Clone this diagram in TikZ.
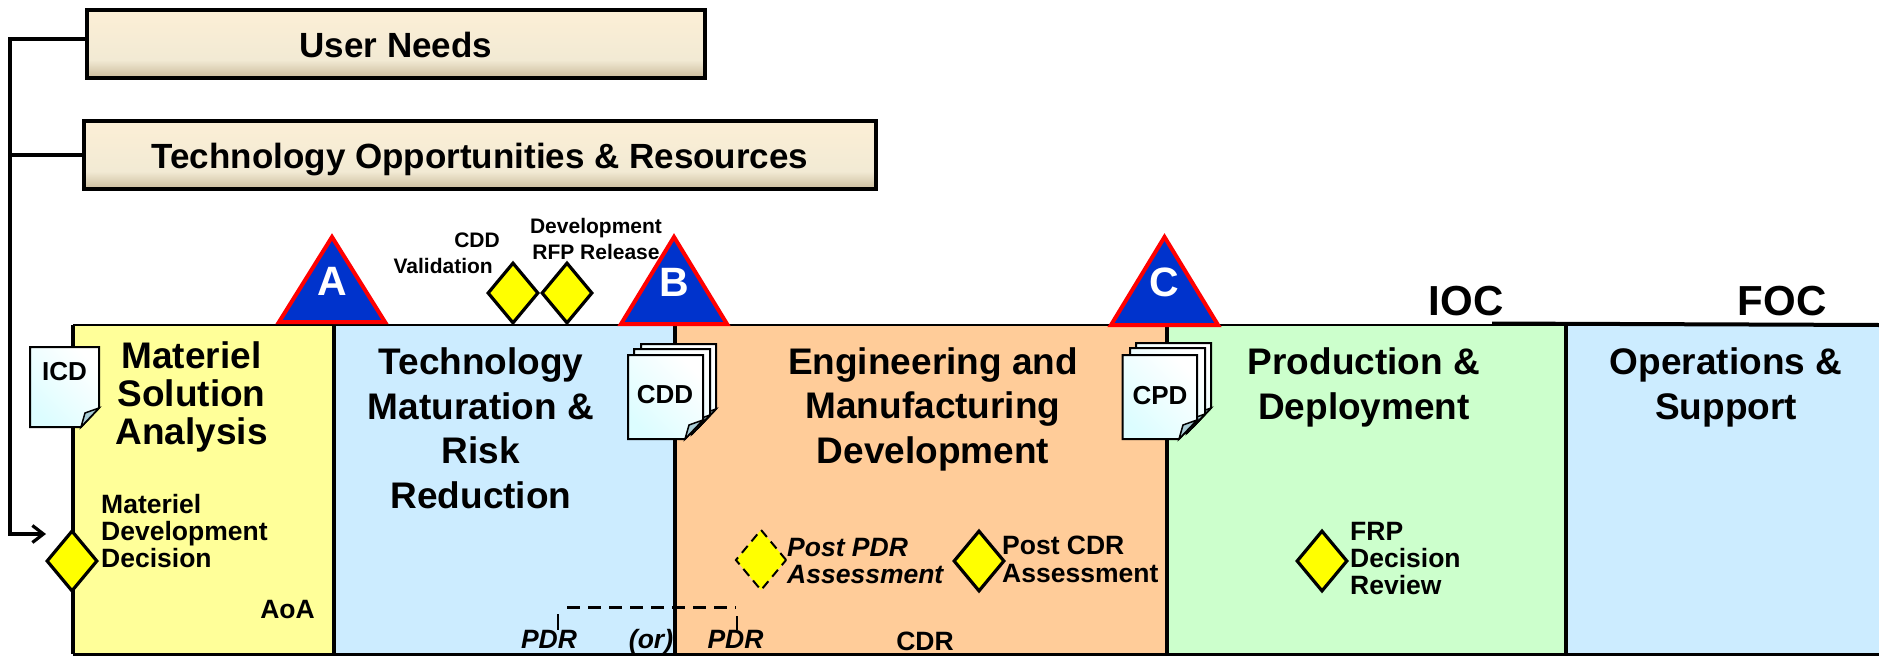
\documentclass[tikz,border=0pt]{standalone}
\usepackage{fontspec}
\setmainfont{Liberation Sans}
\usetikzlibrary{shapes.geometric, arrows.meta}
\definecolor{msafill}{HTML}{FFFF99}
\definecolor{skyfill}{HTML}{CCECFF}
\definecolor{emdfill}{HTML}{FFCC99}
\definecolor{pdfill}{HTML}{CCFFCC}
\definecolor{gateblue}{HTML}{0033CC}
\definecolor{gatered}{HTML}{FF0000}
\definecolor{dpyellow}{HTML}{FFFF00}
\definecolor{foldblue}{HTML}{A9CDD6}
\definecolor{sheetcyan}{HTML}{DCFDFF}
\definecolor{beigetop}{HTML}{FCEFD6}
\definecolor{beigemid}{HTML}{F2EAD4}
\definecolor{beigelow}{HTML}{CBBC9C}
\pgfdeclareverticalshading{beige}{100bp}{color(0bp)=(beigelow); color(25bp)=(beigelow); color(38bp)=(beigemid); color(75bp)=(beigetop); color(100bp)=(beigetop)}
\tikzset{
  bar/.style={draw, line width=4pt, shading=beige, anchor=north west, text height=34pt, text depth=7pt, font=\fontsize{35}{40}\selectfont\bfseries},
  phase/.style={fill=#1, anchor=north west, inner sep=0pt, minimum height=329pt},
  title/.style={anchor=base, align=center, font=\fontsize{37}{44.5}\selectfont\bfseries},
  gate/.style={draw=gatered, fill=gateblue, line width=4pt, miter limit=10},
  gateletter/.style={text=white, font=\fontsize{41}{44}\selectfont\bfseries},
  decision/.style={diamond, draw, fill=dpyellow, line width=3.2pt, inner sep=0pt, minimum width=51pt, minimum height=61pt},
  label/.style={anchor=base west, align=left, inner sep=0pt, font=\fontsize{26.5}{27}\selectfont\bfseries},
  sublabel/.style={anchor=base, align=center, inner sep=0pt, font=\fontsize{21}{26}\selectfont\bfseries},
  doclabel/.style={inner sep=0pt, font=\fontsize{26}{30}\selectfont\bfseries},
  review/.style={anchor=base, inner sep=0pt, font=\fontsize{26.5}{30}\selectfont\bfseries},
  milestone/.style={anchor=base, inner sep=0pt, font=\fontsize{42}{48}\selectfont\bfseries},
  sheet/.style={draw, line width=2pt, left color=white, right color=sheetcyan, shading angle=-45},
}
% one sheet: x, y of the upper left corner, width, height
\newcommand{\docsheet}[4]{
  \draw[sheet] (#1,#2) -- ++(#3,0) -- ++(0,#4-19) -- ++(-18,19) -- ++(18-#3,0) -- cycle;
  \draw[line width=1.5pt, fill=foldblue] (#1+#3-18,#2+#4) -- (#1+#3-14,#2+#4-14) -- (#1+#3,#2+#4-19) -- cycle;
}
\begin{document}
\begin{tikzpicture}[x=1pt, y=-1pt]
  \useasboundingbox (0,0) rectangle (1879,656);
  % the five phases
  \node[phase=msafill, minimum width=261pt] (msa) at (73,325) {};
  \node[phase=skyfill, minimum width=341pt] (tmrr) at (334,325) {};
  \node[phase=emdfill, minimum width=493pt] (emd) at (675,325) {};
  \node[phase=pdfill, minimum width=399pt] (pd) at (1167,325) {};
  \node[phase=skyfill, minimum width=313pt] (os) at (1566,325) {};
  \draw[line width=2pt] (msa.north west) -- (os.north east);
  \draw[line width=2.5pt] (msa.south west) -- (os.south east);
  \draw[line width=4pt] (1492,323.5) -- (os.north east);
  \draw[line width=4pt] (msa.north west) -- (msa.south west);
  \draw[line width=4pt] (tmrr.north west) -- (tmrr.south west);
  \draw[line width=4pt] (emd.north west) -- (emd.south west);
  \draw[line width=4pt] (pd.north west) -- (pd.south west);
  \draw[line width=4pt] (os.north west) -- (os.south west);
  % inputs
  \node[bar, minimum width=618pt, minimum height=68pt] (needs) at (85,7.5) {User Needs};
  \node[bar, minimum width=792pt, minimum height=68pt] (tech) at (82,119) {Technology Opportunities \& Resources};
  \coordinate (trunk) at (10,39);
  \coordinate (entry) at (46,534);
  \draw[line width=3.2pt, -{Straight Barb[length=11pt, width=17pt]}] (needs.west |- trunk) -- (trunk) |- (entry);
  \draw[line width=3.2pt] (tech.west) -- (trunk |- tech.west);
  % phase titles
  \node[title, font=\fontsize{37}{38}\selectfont\bfseries] (msat) at (191.5,444) {Materiel\\Solution\\Analysis};
  \node[title] (tmrrt) at (481,508) {Technology\\Maturation \&\\Risk\\Reduction};
  \node[title] (emdt) at (933,463) {Engineering and\\Manufacturing\\Development};
  \node[title] (pdt) at (1364,419) {Production \&\\Deployment};
  \node[title] (ost) at (1726,419) {Operations \&\\Support};
  \node[milestone] (ioc) at (1466,315) {IOC};
  \node[milestone] (foc) at (1782,315) {FOC};
  % decision points
  \node[decision] (mdd) at (72,561) {};
  \node[decision] (cddv) at (513,293) {};
  \node[decision] (rfp) at (567,293) {};
  \node[decision, line width=2pt, dash pattern=on 9pt off 6pt] (ppdr) at (761,560) {};
  \node[decision] (pcdr) at (979,561) {};
  \node[decision] (frp) at (1322,561) {};
  \node[label] (mddl) at (101,567) {Materiel\\Development\\Decision};
  \node[sublabel, align=right, anchor=base east] (cddvl) at (500,273) {CDD\\Validation\hspace*{7pt}};
  \node[sublabel] (rfpl) at (596,259) {Development\\RFP Release};
  \node[label, font=\fontsize{26.5}{26.5}\selectfont\bfseries\itshape] (ppdrl) at (787,583) {Post PDR\\Assessment};
  \node[label, font=\fontsize{26.5}{27.5}\selectfont\bfseries] (pcdrl) at (1002,582) {Post CDR\\Assessment};
  \node[label] (frpl) at (1350,594) {FRP\\Decision\\Review};
  % documents
  \docsheet{30}{347}{69}{80}
  \node[doclabel] (icd) at (64.5,372) {ICD};
  \docsheet{641}{344}{75}{84}
  \docsheet{634}{349}{76}{85}
  \docsheet{628}{355}{75}{84}
  \node[doclabel] (cdd) at (665,395) {CDD};
  \docsheet{1136}{343}{75}{84}
  \docsheet{1130}{348}{75}{85}
  \docsheet{1122.5}{355}{74.5}{84}
  \node[doclabel] (cpd) at (1160,396) {CPD};
  % milestones
  \draw[gate] (279,322) -- (332,237) -- (385,322) -- cycle;
  \node[gateletter] (ga) at (332,281) {A};
  \draw[gate] (621,324) -- (674,237) -- (727,324) -- cycle;
  \node[gateletter] (gb) at (674.5,282) {B};
  \draw[gate] (1111,325) -- (1164.5,237) -- (1218,325) -- cycle;
  \node[gateletter] (gc) at (1164,282) {C};
  % reviews
  \node[review] (aoa) at (287.5,618) {AoA};
  \node[review, font=\fontsize{26.5}{30}\selectfont\bfseries\itshape] (pdr1) at (549,648) {PDR};
  \node[review, font=\fontsize{26.5}{30}\selectfont\bfseries\itshape] (orl) at (651,648) {(or)};
  \node[review, font=\fontsize{26.5}{30}\selectfont\bfseries\itshape] (pdr2) at (735.5,648) {PDR};
  \node[review] (cdrl) at (925,650) {CDR};
  \coordinate (d1) at (567,607);
  \coordinate (d2) at (736,607);
  \coordinate (t1) at (557.5,614);
  \coordinate (t2) at (737,616);
  \draw[line width=3pt, dash pattern=on 13pt off 8pt] (d1) -- (d2);
  \draw[line width=2pt] (t1) -- (t1 |- pdr1.north);
  \draw[line width=2pt] (t2) -- (t2 |- pdr2.north);
\end{tikzpicture}
\end{document}
